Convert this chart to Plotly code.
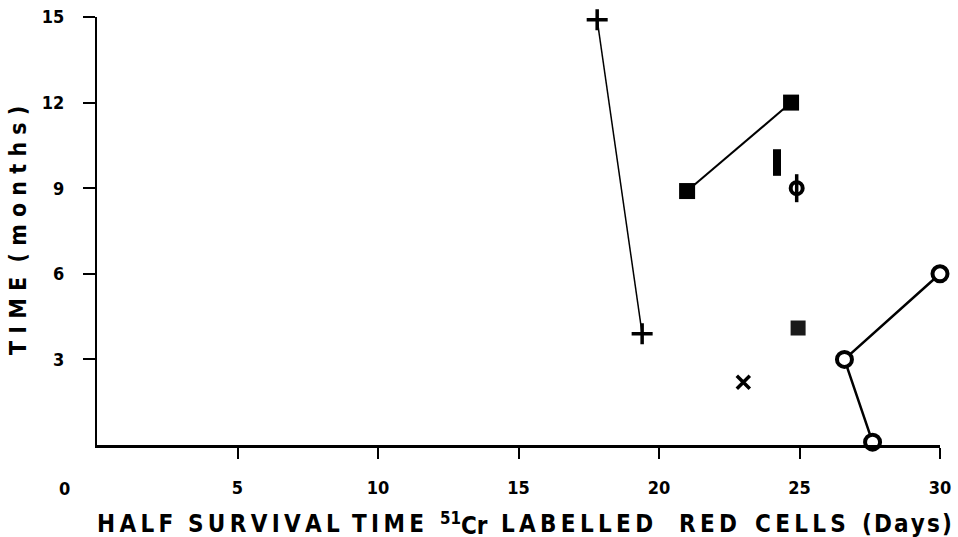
import plotly.graph_objects as go

# Data
plus_x = [17.8, 19.4]
plus_y = [14.9, 3.9]
square_x = [21.0, 24.7]
square_y = [8.9, 12.0]
bar_x = [24.2]
bar_y = [9.9]
phi_x = [24.9]
phi_y = [9.0]
dotsq_x = [24.95]
dotsq_y = [4.1]
cross_x = [23.0]
cross_y = [2.2]
circle_x = [27.6, 26.6, 30.0]
circle_y = [0.1, 3.0, 6.0]

x_ticks = [5, 10, 15, 20, 25, 30]
y_ticks = [3, 6, 9, 12, 15]

FONT = "DejaVu Sans Condensed, Liberation Sans Narrow, sans-serif"
L, R, T, B = 97, 940, 17, 445
W, H = R - L, B - T


def px_x(p):
    return (p - L) / W


def px_y(p):
    return (B - p) / H


def spaced(s, sep="\u2009"):
    return sep.join(list(s))


fig = go.Figure()

fig.add_trace(go.Scatter(x=plus_x, y=plus_y, mode="lines+markers",
                         line=dict(color="black", width=1.5),
                         marker=dict(symbol="cross-thin", size=15, color="black",
                                     line=dict(color="black", width=3.5)),
                         cliponaxis=False))
fig.add_trace(go.Scatter(x=square_x, y=square_y, mode="lines+markers",
                         line=dict(color="black", width=2),
                         marker=dict(symbol="square", size=16, color="black"),
                         cliponaxis=False))
fig.add_trace(go.Scatter(x=bar_x, y=bar_y, mode="markers",
                         marker=dict(symbol="line-ns", size=19, color="black",
                                     line=dict(color="black", width=8)),
                         cliponaxis=False))
fig.add_trace(go.Scatter(x=phi_x, y=phi_y, mode="markers",
                         marker=dict(symbol="line-ns", size=20, color="black",
                                     line=dict(color="black", width=3.5)),
                         cliponaxis=False))
fig.add_trace(go.Scatter(x=phi_x, y=phi_y, mode="markers",
                         marker=dict(symbol="circle-open", size=12, color="black",
                                     line=dict(color="black", width=4)),
                         cliponaxis=False))
fig.add_trace(go.Scatter(x=dotsq_x, y=dotsq_y, mode="markers",
                         marker=dict(symbol="square", size=15, color="#1a1a1a"),
                         cliponaxis=False))
fig.add_trace(go.Scatter(x=cross_x, y=cross_y, mode="markers",
                         marker=dict(symbol="x-thin", size=13, color="black",
                                     line=dict(color="black", width=3.5)),
                         cliponaxis=False))
fig.add_trace(go.Scatter(x=circle_x, y=circle_y, mode="lines+markers",
                         line=dict(color="black", width=2.5),
                         marker=dict(symbol="circle", size=15, color="white",
                                     line=dict(color="black", width=4)),
                         cliponaxis=False))

fig.update_layout(
    width=958, height=537,
    margin=dict(l=L, r=958 - R, t=T, b=537 - B, autoexpand=False),
    paper_bgcolor="white", plot_bgcolor="white",
    showlegend=False,
    font=dict(family=FONT, color="black", size=18, weight="bold"),
)
fig.update_xaxes(range=[0, 30], tickvals=x_ticks, showgrid=False, zeroline=False,
                 showline=True, linecolor="black", linewidth=2.5,
                 ticks="outside", ticklen=11, tickwidth=2, tickcolor="black",
                 ticklabelstandoff=14, automargin=False,
                 tickfont=dict(family=FONT, size=18, weight="bold"))
fig.update_yaxes(range=[0, 15], tickvals=y_ticks, showgrid=False, zeroline=False,
                 showline=True, linecolor="black", linewidth=2,
                 ticks="outside", ticklen=12, tickwidth=2, tickcolor="black",
                 ticklabelstandoff=15, automargin=False,
                 tickfont=dict(family=FONT, size=18, weight="bold"))

# "0" label placed at the corner, offset left
fig.add_annotation(x=px_x(64), y=px_y(488), xref="paper", yref="paper", text="0",
                   showarrow=False, xanchor="center", yanchor="middle",
                   font=dict(family=FONT, size=18, weight="bold"))

# y-axis title
fig.add_annotation(x=px_x(18), y=px_y(231), xref="paper", yref="paper",
                   text="T I M E  ( m o n t h s )", textangle=-90, showarrow=False,
                   xanchor="center", yanchor="middle",
                   font=dict(family=FONT, size=23, weight="bold"))

# x-axis title pieces
x_title = [
    (spaced("HALF"), 135),
    (spaced("SURVIVAL"), 264),
    (spaced("TIME"), 388),
    ("<sup>51</sup>Cr", 464),
    (spaced("LABELLED"), 577),
    (spaced("RED"), 708),
    (spaced("CELLS"), 800),
    (spaced("(Days)", "\u200a"), 907),
]
for txt, px in x_title:
    fig.add_annotation(x=px_x(px), y=px_y(524), xref="paper", yref="paper",
                       text=txt, showarrow=False, xanchor="center", yanchor="middle",
                       font=dict(family=FONT, size=24, weight="bold"))

fig.write_html("out.html", config={"displayModeBar": False},
               post_script="document.body.style.margin='0px';")
